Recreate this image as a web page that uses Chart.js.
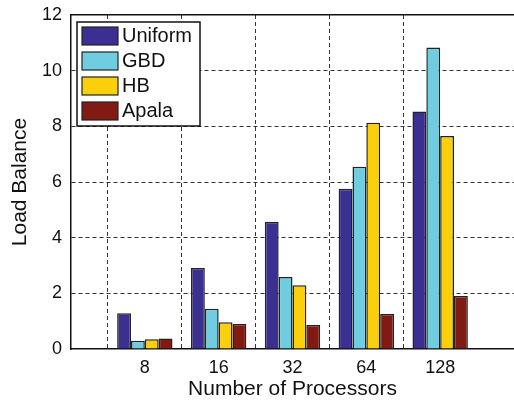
<!DOCTYPE html>
<html>
<head>
<meta charset="utf-8">
<title>Load Balance</title>
<script src="https://cdn.jsdelivr.net/npm/chart.js@4/dist/chart.umd.min.js"></script>
<style>
  html, body { margin: 0; padding: 0; background: #fff; }
  #wrap { width: 514px; height: 404px; position: relative; }
</style>
</head>
<body>
<div id="wrap"><canvas id="chart" width="514" height="404"></canvas></div>
<script>
// Processor counts; blank slots pad the axis on both sides
const tickLabels = ['', '8', '16', '32', '64', '128', ''];
const seriesNames = ['Uniform', 'GBD', 'HB', 'Apala'];
const uniform = [1.28, 2.91, 4.57, 5.76, 8.53];
const gbd     = [0.30, 1.45, 2.59, 6.55, 10.83];
const hb      = [0.35, 0.96, 2.29, 8.13, 7.65];
const apala   = [0.38, 0.90, 0.86, 1.26, 1.90];
const yTicks  = [0, 2, 4, 6, 8, 10, 12];

const seriesColors = ['#3b2f91', '#70cde0', '#fccf0c', '#801a12'];
const FONT = '"Liberation Sans", Arial, Helvetica, sans-serif';

const pad = arr => [null, ...arr, null];
const seriesValues = [uniform, gbd, hb, apala];

// Keep the plot flush with the requested margins
const noEdgePadding = s => { s.paddingLeft = 0; s.paddingRight = 0; s.paddingTop = 0; s.paddingBottom = 0; };

// Boxed legend drawn inside the upper-left corner of the plot
const boxLegend = {
  id: 'boxLegend',
  afterDraw(chart) {
    const {ctx, chartArea} = chart;
    const x0 = chartArea.left + 6, y0 = chartArea.top + 7;
    const w = 123, h = 104;
    ctx.save();
    ctx.fillStyle = '#fff';
    ctx.fillRect(x0, y0, w, h);
    ctx.lineWidth = 1.5;
    ctx.strokeStyle = '#111';
    ctx.strokeRect(x0, y0, w, h);
    ctx.font = '20px ' + FONT;
    ctx.textBaseline = 'middle';
    ctx.textAlign = 'left';
    chart.data.datasets.forEach((ds, i) => {
      const cy = y0 + 14 + i * 25;
      ctx.fillStyle = ds.backgroundColor;
      ctx.fillRect(x0 + 5, cy - 9, 36, 18);
      ctx.lineWidth = 1.2;
      ctx.strokeStyle = '#222';
      ctx.strokeRect(x0 + 5, cy - 9, 36, 18);
      ctx.fillStyle = '#111';
      ctx.fillText(ds.label, x0 + 45, cy + 0.5);
    });
    ctx.restore();
  }
};

new Chart(document.getElementById('chart'), {
  type: 'bar',
  data: {
    labels: tickLabels,
    datasets: seriesNames.map((name, i) => ({
      label: name,
      data: pad(seriesValues[i]),
      backgroundColor: seriesColors[i],
      borderColor: '#222',
      borderWidth: 1.5,
      xAxisID: 'x',
      categoryPercentage: 0.75,
      barPercentage: 1.0
    }))
  },
  options: {
    responsive: false,
    animation: false,
    events: [],
    layout: { padding: { top: 15, right: 0, left: 0, bottom: 0 } },
    plugins: {
      legend: { display: false },
      tooltip: { enabled: false }
    },
    scales: {
      x: {
        type: 'category',
        position: 'bottom',
        offset: false,
        grid: {
          color: ctx => (tickLabels[ctx.index] === '' ? 'rgba(0,0,0,0)' : '#333'),
          lineWidth: 1,
          drawTicks: false
        },
        border: { display: true, color: '#111', width: 1.5, dash: [4, 3] },
        ticks: {
          color: '#111',
          font: { family: FONT, size: 18 },
          padding: 8,
          maxRotation: 0,
          autoSkip: false
        },
        title: {
          display: true,
          text: 'Number of Processors',
          color: '#111',
          font: { family: FONT, size: 21 },
          padding: { top: 0, bottom: 2 }
        },
        afterFit: s => { s.height = 55; noEdgePadding(s); }
      },
      xTop: {
        type: 'category',
        position: 'top',
        labels: tickLabels,
        offset: false,
        grid: { display: false, drawTicks: false },
        border: { display: true, color: '#111', width: 1.5 },
        ticks: { display: false },
        afterFit: s => { s.height = 0; noEdgePadding(s); }
      },
      y: {
        min: 0,
        max: 12,
        afterBuildTicks: s => { s.ticks = yTicks.map(v => ({ value: v })); },
        grid: {
          color: ctx => (ctx.tick && (ctx.tick.value === 0 || ctx.tick.value === 12) ? 'rgba(0,0,0,0)' : '#333'),
          lineWidth: 1,
          drawTicks: false
        },
        border: { display: true, color: '#111', width: 1.5, dash: [4, 3] },
        ticks: {
          color: '#111',
          font: { family: FONT, size: 18 },
          padding: 9
        },
        title: {
          display: true,
          text: 'Load Balance',
          color: '#111',
          font: { family: FONT, size: 21 },
          padding: { top: 8, bottom: 0 }
        },
        afterFit: s => { s.width = 71; noEdgePadding(s); }
      }
    }
  },
  plugins: [boxLegend]
});
</script>
</body>
</html>
